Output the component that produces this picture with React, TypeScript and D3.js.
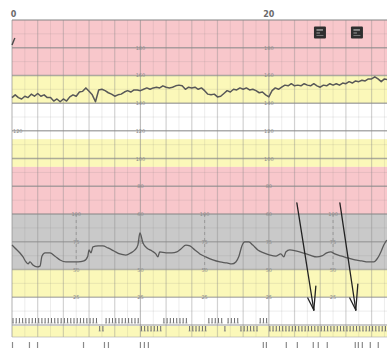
import React from 'react';
import * as d3 from 'd3';

// ---- data ----
const topTickMinutes = [0, 20];
const fhrStep = 0.25;
const fhrValues = [
  144, 146, 144, 143, 145, 144, 146.5, 145, 147, 145,
  146, 144, 144, 141.5, 143, 141, 143, 141.5, 144.5, 146,
  145, 148, 148.5, 151, 148.5, 146, 141, 149.5, 150, 149,
  147.5, 146.5, 145, 146, 146.5, 148, 149, 148, 149.5, 149.5,
  149, 150, 151, 150, 151, 151.5, 151, 152.5, 151.5, 151,
  151.5, 152.5, 153, 152.5, 150, 151.5, 151, 151.5, 150, 151,
  149, 146.5, 146, 146.5, 144.5, 145, 147, 149, 148, 150,
  149.5, 151, 150, 151, 149.5, 150, 149, 147.5, 148, 146,
  144.5, 149, 151, 150, 151.5, 153, 152.5, 154, 152.5, 153,
  152.5, 154, 153, 152.5, 154, 152.5, 151.5, 153, 152.5, 154,
  153, 154, 153, 154.5, 154, 155.5, 154.5, 156, 155.5, 156.5,
  156, 157.5, 157.5, 159, 157.5, 155.5, 157.5, 157,
];
const fhrStartTimes = [0, 0.22];
const fhrStartValues = [182, 187];

const tocoTimes = [
  0, 0.23, 0.62, 0.86, 1.09, 1.25, 1.4, 1.63, 1.95, 2.18, 2.33, 2.57, 2.96, 3.35, 3.74,
  4.2, 4.67, 5.14, 5.6, 5.9, 6.0, 6.15, 6.3, 6.7, 7.08, 7.47, 7.94, 8.4, 8.87, 9.26,
  9.57, 9.8, 9.96, 10.2, 10.5, 10.9, 11.2, 11.36, 11.5, 12.0, 12.45, 12.84, 13.15, 13.54, 13.85,
  14.24, 14.63, 15.1, 15.64, 16.19, 16.73, 17.12, 17.43, 17.67, 17.9, 18.13, 18.44, 18.75, 19.14, 19.6,
  20.08, 20.54, 20.93, 21.17, 21.32, 21.63, 22.1, 22.65, 23.19, 23.74, 24.12, 24.51, 24.82, 25.14, 25.6,
  26.15, 26.7, 27.24, 27.7, 28.17, 28.48, 28.72, 28.95, 29.18,
];
const tocoValues = [
  72, 69.4, 64.9, 61.3, 56.8, 55, 56.8, 54, 52.3, 53, 62, 65, 65, 62, 58.6,
  56.8, 56.8, 56.8, 57.7, 62, 67.6, 65, 70.3, 71.2, 71.2, 69.4, 66.7, 64, 63, 65,
  67.6, 72, 82.9, 73.9, 69.4, 66.7, 64, 61.3, 65.8, 65, 65, 65.8, 68.5, 72, 71.2,
  67.6, 64, 61.3, 58.6, 56.8, 55.9, 55, 56.8, 62, 71.2, 74.8, 74.8, 72, 67.6, 65,
  63, 62, 64, 61.3, 65.8, 67.6, 66.7, 65, 63, 61.3, 62.2, 64.9, 65.8, 64, 62.2,
  60.4, 58.6, 57.7, 56.8, 56.8, 60.4, 65.8, 72, 76.6,
];

// 0 = upper row, 1 = lower row (movement ticks every 0.25 min)
const tickLevels = [
  0, 0, 0, 0, 0, 0, 0, 0, 0, 0, 0, 0, 0, 0, 0, 0, 0, 0, 0, 0, 0, 0, 0, 0, 0, 0, 0,
  1, 1,
  0, 0, 0, 0, 0, 0, 0, 0, 0, 0, 0,
  1, 1, 1, 1, 1, 1, 1,
  0, 0, 0, 0, 0, 0, 0, 0,
  1, 1, 1, 1, 1, 1,
  0, 0, 0, 0, 0,
  1,
  0, 0, 0, 0,
  1, 1, 1, 1, 1, 1,
  0, 0, 0,
  1, 1, 1, 1, 1, 1, 1, 1, 1, 1, 1, 1, 1, 1, 1, 1, 1, 1, 1, 1,
  1, 1, 1, 1, 1, 1, 1, 1, 1, 1, 1, 1, 1, 1, 1, 1, 1, 1,
];
const bottomMarkTimes = [0, 1.32, 1.95, 5.53, 7.16, 7.47, 9.96, 10.27, 10.58, 19.53, 19.77, 21.32, 22.18, 23.42, 23.81, 24.51, 26.69, 26.93, 27.24, 27.86, 28.48];

const fhrBandLo = [160, 140, 114, 94, 60];
const fhrBandHi = [200, 160, 140, 114, 94];
const fhrBandKind = ['alert', 'warn', 'normal', 'warn', 'alert'];
const tocoBandLo = [50, 25, 0];
const tocoBandHi = [100, 50, 25];
const tocoBandKind = ['toco', 'warn', 'normal'];

const fhrMajorLines = [200, 180, 160, 140, 120, 100, 80, 60];
const tocoMajorLines = [75, 50, 25, 0];
const fhrLabelMinutes = [10, 20];
const fhrLabelValues = [180, 160, 140, 120, 100, 80, 60];
const tocoLabelMinutes = [5, 10, 15, 20, 25];
const tocoLabelValues = [100, 75, 50, 25];

const iconTimes = [23.98, 26.86];
const iconValue = 191;

const arrowStartT = [22.18, 25.53];
const arrowStartV = [110, 110];
const arrowTipT = [23.5, 26.77];
const arrowTipV = [13.5, 13.5];
const arrowLeftT = [23.03, 26.3];
const arrowLeftV = [24.3, 24.3];
const arrowRightT = [23.66, 26.93];
const arrowRightV = [35.1, 36.9];

// ---- styles ----
const fills: Record<string, string> = {
  alert: '#f8c7cb',
  warn: '#fbf8b9',
  normal: '#ffffff',
  toco: '#c9c9c9',
};

export default function App() {
  const W = 387, H = 350;
  const x = d3.scaleLinear().domain([0, 29.2]).range([12, 387]);
  const yF = d3.scaleLinear().domain([60, 200]).range([214, 20]);
  const yT = d3.scaleLinear().domain([0, 100]).range([325, 214]);
  const x0 = x(0), x1 = W;
  const stripTop = yT(0) + 1, stripBot = yT(0) + 12;

  const fhrLine = d3.line<number>().x((_, i) => x(i * fhrStep)).y((d) => yF(d));
  const startLine = d3.line<number>().x((_, i) => x(fhrStartTimes[i])).y((d) => yF(d));
  const tocoLine = d3.line<number>().x((_, i) => x(tocoTimes[i])).y((d) => yT(d)).curve(d3.curveMonotoneX);

  const minuteLines = d3.range(0, 30, 1);
  const fhrMinor = d3.range(60, 201, 10).filter((v) => v % 20 !== 0);
  const tocoMinor = d3.range(12.5, 100, 25);

  return (
    <svg width={W} height={H} style={{ position: 'absolute', left: 0, top: 0, background: '#fff' }}
      fontFamily="DejaVu Sans, sans-serif">
      <rect x={0} y={0} width={W} height={H} fill="#fff" />
      {/* bands */}
      {fhrBandLo.map((lo, i) => (
        <rect key={'fb' + i} x={x0} y={yF(fhrBandHi[i])} width={x1 - x0}
          height={yF(lo) - yF(fhrBandHi[i])} fill={fills[fhrBandKind[i]]} />
      ))}
      {tocoBandLo.map((lo, i) => (
        <rect key={'tb' + i} x={x0} y={yT(tocoBandHi[i])} width={x1 - x0}
          height={yT(lo) - yT(tocoBandHi[i])} fill={fills[tocoBandKind[i]]} />
      ))}
      <rect x={x0} y={stripTop} width={x1 - x0} height={stripBot - stripTop} fill={fills.warn} />

      {/* minor grid */}
      {minuteLines.filter((m) => m % 2 === 1).map((m) => (
        <line key={'vm' + m} x1={x(m)} x2={x(m)} y1={yF(200)} y2={stripBot}
          stroke="#777" strokeOpacity={0.13} strokeWidth={1} />
      ))}
      {fhrMinor.map((v) => (
        <line key={'hm' + v} x1={x0} x2={x1} y1={yF(v)} y2={yF(v)} stroke="#777" strokeOpacity={0.13} />
      ))}
      {tocoMinor.map((v) => (
        <line key={'tm' + v} x1={x0} x2={x1} y1={yT(v)} y2={yT(v)} stroke="#777" strokeOpacity={0.13} />
      ))}
      {/* major vertical grid */}
      {minuteLines.filter((m) => m % 2 === 0).map((m) => (
        <line key={'vM' + m} x1={x(m)} x2={x(m)} y1={yF(200)} y2={stripBot}
          stroke="#888" strokeOpacity={m % 10 === 0 ? 0.55 : 0.38} strokeWidth={1.2} />
      ))}
      {/* major horizontal grid */}
      {fhrMajorLines.map((v) => (
        <line key={'hM' + v} x1={x0} x2={x1} y1={yF(v)} y2={yF(v)} stroke="#8a8a8a" strokeOpacity={0.7} strokeWidth={1.5} />
      ))}
      {tocoMajorLines.map((v) => (
        <line key={'tM' + v} x1={x0} x2={x1} y1={yT(v)} y2={yT(v)} stroke="#8a8a8a" strokeOpacity={0.6} strokeWidth={1.3} />
      ))}
      <line x1={x0} x2={x1} y1={stripBot} y2={stripBot} stroke="#aaa" strokeOpacity={0.6} />

      {/* dashed toco scale lines */}
      {tocoLabelMinutes.filter((m) => m % 10 !== 0).map((m) => (
        <line key={'dl' + m} x1={x(m)} x2={x(m)} y1={yT(100)} y2={yT(50)}
          stroke="#888" strokeWidth={1} strokeDasharray="3,3" strokeOpacity={0.7} />
      ))}

      {/* scale labels */}
      {fhrLabelMinutes.map((m) => fhrLabelValues.map((v) => (
        <text key={'fl' + m + v} x={x(m)} y={yF(v)} fontSize={5} fill="#8a8a8a"
          textAnchor="middle" dominantBaseline="central">{v}</text>
      )))}
      {tocoLabelMinutes.map((m) => tocoLabelValues
        .filter((v) => !(v === 100 && fhrLabelMinutes.includes(m)))
        .map((v) => (
          <text key={'tl' + m + v} x={x(m)} y={yT(v)} fontSize={5} fill="#8a8a8a"
            textAnchor="middle" dominantBaseline="central">{v}</text>
        )))}
      <text x={x(0) + 1} y={yF(120)} fontSize={5} fill="#8a8a8a" dominantBaseline="central">120</text>

      {/* top axis labels */}
      {topTickMinutes.map((m) => (
        <text key={'tt' + m} x={x(m) + (m === 0 ? 1.5 : 0)} y={14} fontSize={8} fontWeight="bold"
          fill="#6a6a6a" textAnchor="middle" dominantBaseline="central">{m}</text>
      ))}

      {/* icons */}
      {iconTimes.map((t, i) => (
        <g key={'ic' + i} transform={`translate(${x(t) - 6},${yF(iconValue) - 6})`}>
          <rect width={12} height={12} fill="#2e2e2e" rx={1} />
          <line x1={2.5} x2={9} y1={3.5} y2={3.5} stroke="#bbb" strokeWidth={1.2} />
          <line x1={2.5} x2={6} y1={6.5} y2={6.5} stroke="#999" strokeWidth={1} />
          <line x1={2.5} x2={9.5} y1={9} y2={9} stroke="#777" strokeWidth={1} />
        </g>
      ))}

      {/* traces */}
      <path d={startLine(fhrStartValues) || ''} fill="none" stroke="#4a4a4a" strokeWidth={1.4} />
      <path d={fhrLine(fhrValues) || ''} fill="none" stroke="#585858" strokeWidth={1.5} strokeLinejoin="round" />
      <path d={tocoLine(tocoValues) || ''} fill="none" stroke="#5a5a5a" strokeWidth={1.3} />

      {/* movement ticks */}
      {tickLevels.map((lv, i) => {
        const cx = x(i * fhrStep) + 1;
        const top = lv === 0 ? yT(0) - 7 : yT(0) + 1;
        return (
          <g key={'mk' + i}>
            <line x1={cx} x2={cx} y1={top} y2={top + 5} stroke="#6a6a6a" strokeWidth={1} />
            <line x1={cx - 1} x2={cx + 1} y1={top + 5} y2={top + 5} stroke="#8a8a8a" strokeWidth={0.8} />
          </g>
        );
      })}

      {/* bottom marks */}
      {bottomMarkTimes.map((t, i) => (
        <line key={'bm' + i} x1={x(t) + 0.5} x2={x(t) + 0.5} y1={342} y2={348} stroke="#8a8a8a" strokeWidth={1.2} />
      ))}

      {/* arrows */}
      {arrowStartT.map((t, i) => (
        <g key={'ar' + i} stroke="#222" strokeWidth={1.3} fill="none" strokeLinecap="round">
          <line x1={x(t)} y1={yT(arrowStartV[i])} x2={x(arrowTipT[i])} y2={yT(arrowTipV[i])} />
          <line x1={x(arrowLeftT[i])} y1={yT(arrowLeftV[i])} x2={x(arrowTipT[i])} y2={yT(arrowTipV[i])} />
          <line x1={x(arrowRightT[i])} y1={yT(arrowRightV[i])} x2={x(arrowTipT[i])} y2={yT(arrowTipV[i])} />
        </g>
      ))}
    </svg>
  );
}
